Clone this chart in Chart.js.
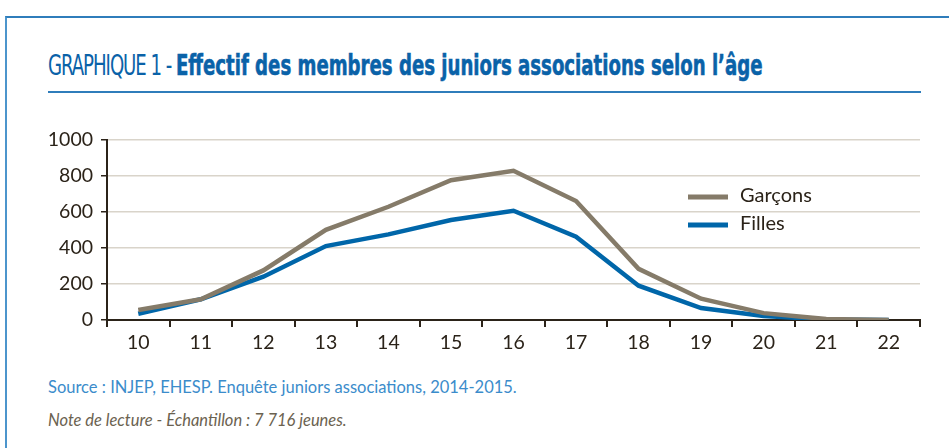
<!DOCTYPE html>
<html>
<head>
<meta charset="utf-8">
<script src="https://cdn.jsdelivr.net/npm/chart.js@4"></script>
<style>
  body { margin: 0; background: #fff; width: 949px; height: 448px; overflow: hidden; position: relative; font-family: Lato, sans-serif; }
  .frame { position: absolute; left: 5px; top: 16px; width: 960px; height: 460px; border-top: 2px solid #2f7dbb; border-left: 2px solid #4c95cc; }
  .title { position: absolute; left: 48px; top: 48px; white-space: nowrap; color: #0a62a8; font-family: "DejaVu Sans Condensed", "Liberation Sans Narrow", sans-serif; font-size: 29px; transform: scaleX(0.695); transform-origin: left top; }
  .title .lab { font-weight: normal; letter-spacing: -1.5px; }
  .title .main { font-weight: bold; -webkit-text-stroke: 0.6px #0a62a8; }
  .rule { position: absolute; left: 48px; top: 91px; width: 873px; height: 0; border-top: 2px solid #2f7dbb; }
  .source { position: absolute; left: 48px; top: 377px; font-size: 16.5px; color: #3b8ccb; }
  .note { position: absolute; left: 48px; top: 410px; font-size: 16.5px; color: #6b6250; font-style: italic; }
  #wrap { position: absolute; left: 0; top: 120px; width: 949px; height: 240px; }
</style>
</head>
<body>
<div class="frame"></div>
<div class="title"><span class="lab">GRAPHIQUE 1 - </span><span class="main">Effectif des membres des juniors associations selon l’âge</span></div>
<div class="rule"></div>
<div id="wrap"><canvas id="chart1"></canvas></div>
<div class="source">Source : INJEP, EHESP. Enquête juniors associations, 2014-2015.</div>
<div class="note">Note de lecture - Échantillon : 7 716 jeunes.</div>
<script>
// ages
const ages = ['10', '11', '12', '13', '14', '15', '16', '17', '18', '19', '20', '21', '22'];
// effectifs
const garcons = [55, 115, 275, 500, 628, 775, 828, 660, 284, 118, 38, 5, 0];
const filles = [35, 115, 240, 410, 475, 555, 606, 462, 190, 66, 22, 3, 0];
const yTicks = [0, 200, 400, 600, 800, 1000];

const axisColor = '#2b2319';
const tickFont = { family: 'Lato', size: 19.5 };

// petite legende a droite, dessinee sur le canvas
const legendPlugin = {
  id: 'sideLegend',
  afterDraw(chart) {
    const ctx = chart.ctx;
    const sets = chart.data.datasets;
    ctx.save();
    sets.forEach((ds, i) => {
      const y = 77 + i * 28;
      ctx.strokeStyle = ds.borderColor;
      ctx.lineWidth = 5;
      ctx.beginPath();
      ctx.moveTo(688, y);
      ctx.lineTo(728, y);
      ctx.stroke();
      ctx.fillStyle = axisColor;
      ctx.font = '20px Lato';
      ctx.textBaseline = 'middle';
      ctx.fillText(ds.label, 740, y - 1);
    });
    ctx.restore();
  }
};

const ctx = document.getElementById('chart1').getContext('2d');
new Chart(ctx, {
  type: 'line',
  data: {
    labels: ages,
    datasets: [{
      label: 'Garçons',
      data: garcons,
      borderColor: '#857b69',
      borderWidth: 4.5,
      pointRadius: 0,
      tension: 0
    }, {
      label: 'Filles',
      data: filles,
      borderColor: '#0066a9',
      borderWidth: 4.5,
      pointRadius: 0,
      tension: 0
    }]
  },
  options: {
    responsive: true,
    maintainAspectRatio: false,
    animation: false,
    layout: { padding: { left: 0, right: 29, top: 17, bottom: 0 } },
    plugins: {
      legend: { display: false },
      tooltip: { enabled: false }
    },
    scales: {
      x: {
        offset: true,
        grid: { offset: true, drawOnChartArea: false, color: axisColor, tickLength: 7, lineWidth: 2 },
        border: { color: axisColor, width: 2 },
        ticks: { color: axisColor, font: tickFont, padding: 4, maxRotation: 0 },
        afterFit: (scale) => { scale.height = 40; }
      },
      y: {
        min: 0,
        max: 1000,
        afterBuildTicks: (scale) => { scale.ticks = yTicks.map(v => ({ value: v })); },
        grid: { color: '#d9d4ca', lineWidth: 1.5, tickColor: axisColor, tickLength: 6 },
        border: { color: axisColor, width: 2 },
        ticks: { color: axisColor, font: tickFont, padding: 8, callback: (v) => String(v) },
        afterFit: (scale) => { scale.width = 107; }
      }
    }
  },
  plugins: [legendPlugin]
});
</script>
</body>
</html>
